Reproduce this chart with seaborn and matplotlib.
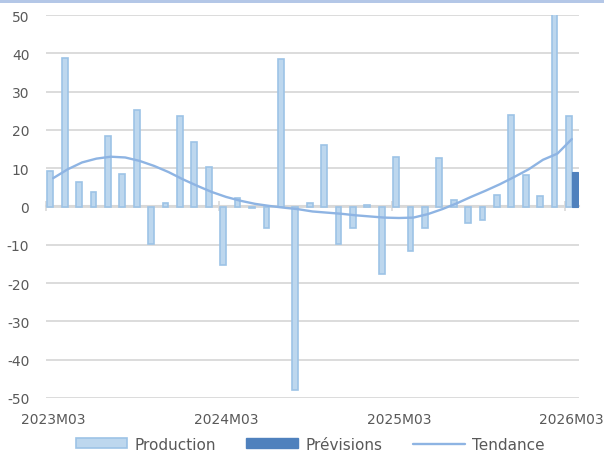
import numpy as np
import pandas as pd
import matplotlib
matplotlib.use("Agg")
import matplotlib.pyplot as plt
import seaborn as sns
from matplotlib.patches import Patch, Rectangle
from matplotlib.lines import Line2D

# Mois 2023M03 .. 2026M03
mois = []
for annee in range(2023, 2027):
    for m in range(1, 13):
        if (annee == 2023 and m < 3) or (annee == 2026 and m > 3):
            continue
        mois.append(f"{annee}M{m:02d}")

production = [9.3, 38.7, 6.5, 3.9, 18.3, 8.4, 25.2, -9.8, 1.0, 23.5,
              16.9, 10.3, -15.3, 2.2, -0.3, -5.7, 38.5, -47.9, 1.0, 16.0,
              -9.8, -5.7, 0.3, -17.7, 12.9, -11.7, -5.7, 12.7, 1.7, -4.4,
              -3.5, 2.9, 23.9, 8.3, 2.8, 51.0, 23.6]
previsions_mois = ["2026M03"]
previsions = [8.9]
tendance = [7.4, 9.7, 11.5, 12.5, 13.0, 12.8, 11.9, 10.6, 9.0, 7.1,
            5.4, 3.8, 2.5, 1.5, 0.7, 0.15, -0.3, -0.7, -1.3, -1.6,
            -1.9, -2.3, -2.6, -2.9, -3.0, -2.9, -2.0, -0.7, 0.8, 2.5,
            4.1, 5.8, 7.7, 9.7, 12.2, 13.8, 17.6]
etiquettes = ["2023M03", "2024M03", "2025M03", "2026M03"]

df = pd.concat([
    pd.DataFrame({"mois": mois, "serie": "Production", "valeur": production}),
    pd.DataFrame({"mois": previsions_mois, "serie": "Prévisions", "valeur": previsions}),
])

gris = "#595959"
grille = "#D9D9D9"
c_fill = "#BDD7EE"
c_edge = "#9DC3E6"
c_prev = "#4F81BD"
c_tend = "#8EB4E3"

sns.set_style("white")
plt.rcParams['font.family'] = ['DejaVu Sans']
plt.rcParams['axes.unicode_minus'] = False

fig = plt.figure(figsize=(6.04, 4.52), dpi=100)
ax = fig.add_axes([46 / 604, 1 - 399 / 452, 533 / 604, 383 / 452])

# bandeau en haut
fig.add_artist(Rectangle((0, 1 - 4 / 452), 1, 4 / 452, transform=fig.transFigure,
                         color="#B4C7E7", lw=0))

ax.yaxis.grid(True, color=grille, lw=1.3)
ax.set_axisbelow(True)

sns.barplot(data=df, x="mois", y="valeur", hue="serie", order=mois,
            hue_order=["Production", "Prévisions"],
            palette={"Production": c_fill, "Prévisions": c_prev},
            width=0.8, saturation=1, legend=False, ax=ax, errorbar=None)
for p in ax.patches:
    fc = matplotlib.colors.to_hex(p.get_facecolor())
    if fc.lower() == c_fill.lower():
        p.set_edgecolor(c_edge)
        p.set_linewidth(1.2)
    else:
        p.set_edgecolor(c_prev)
        p.set_linewidth(0.8)

sns.lineplot(x=np.arange(len(mois)), y=tendance, color=c_tend, lw=1.7, ax=ax)

ax.set_xlim(-0.5, len(mois) - 0.5)
ax.set_ylim(-50, 50)
ax.set_yticks(np.arange(-50, 51, 10))
ax.set_xticks([mois.index(e) for e in etiquettes])
ax.set_xticklabels(etiquettes)
ax.tick_params(axis="x", length=0, pad=10, labelsize=10, labelcolor=gris)
ax.tick_params(axis="y", length=0, pad=12, labelsize=10, labelcolor=gris)
ax.set_xlabel("")
ax.set_ylabel("")
for s in ax.spines.values():
    s.set_visible(False)

# axe horizontal a zero avec graduations
sec = ax.secondary_xaxis(0.5)
sec.set_xticks([mois.index(e) - 0.5 for e in etiquettes])
sec.set_xticklabels([])
sec.tick_params(axis="x", direction="inout", length=7, width=1.2, color=grille)
for s in sec.spines.values():
    s.set_color(grille)
    s.set_linewidth(1.5)

handles = [
    Patch(facecolor=c_fill, edgecolor=c_edge, lw=1.2),
    Patch(facecolor=c_prev, edgecolor=c_prev),
    Line2D([0], [0], color=c_tend, lw=1.7),
]
fig.legend(handles, ["Production", "Prévisions", "Tendance"], loc="lower center",
           bbox_to_anchor=(0.513, -0.032), ncol=3, frameon=False, fontsize=11,
           labelcolor=gris, handlelength=3.4, handleheight=0.6,
           columnspacing=2.0, handletextpad=0.45)

fig.savefig("out.png", dpi=100)
